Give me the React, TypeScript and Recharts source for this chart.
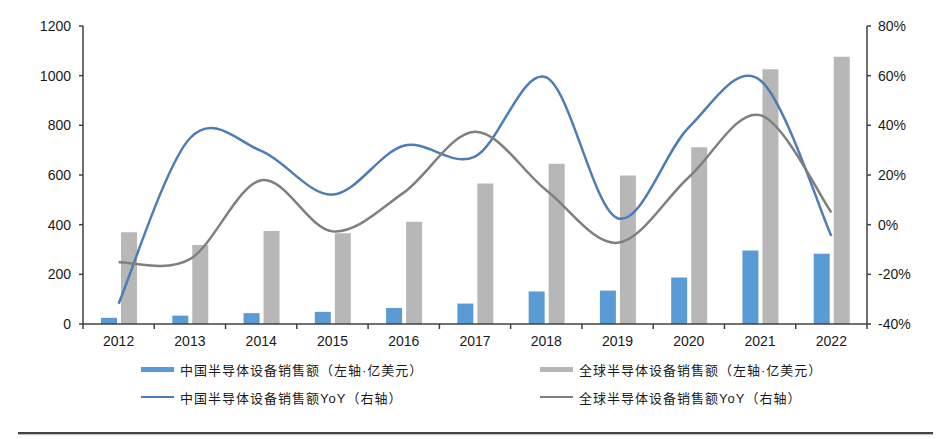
import React from 'react';
import { ComposedChart, Bar, Line, XAxis, YAxis, Legend } from 'recharts';

const years = ['2012', '2013', '2014', '2015', '2016', '2017', '2018', '2019', '2020', '2021', '2022'];
const chinaSales = [25, 33.7, 43.7, 49, 64.6, 82.3, 131.1, 134.5, 187.2, 296.2, 282.7];
const globalSales = [369.3, 318, 375, 365, 412, 566, 645, 598, 712, 1026, 1076];
const chinaYoY = [-0.318, 0.348, 0.297, 0.121, 0.318, 0.274, 0.593, 0.026, 0.392, 0.582, -0.046];
const globalYoY = [-0.151, -0.139, 0.179, -0.027, 0.129, 0.374, 0.139, -0.073, 0.191, 0.441, 0.049];
const leftTicks = [0, 200, 400, 600, 800, 1000, 1200];
const rightTicks = [-0.4, -0.2, 0, 0.2, 0.4, 0.6, 0.8];

const names = {
  china: '中国半导体设备销售额（左轴·亿美元）',
  global: '全球半导体设备销售额（左轴·亿美元）',
  chinaYoY: '中国半导体设备销售额YoY（右轴）',
  globalYoY: '全球半导体设备销售额YoY（右轴）',
};

const COLORS = {
  china: '#5B9BD5',
  global: '#B7B7B7',
  chinaYoY: '#4C7DB7',
  globalYoY: '#7F7F7F',
  axis: '#404040',
};

const data = years.map((y, i) => ({
  year: y,
  china: chinaSales[i],
  global: globalSales[i],
  chinaYoY: chinaYoY[i],
  globalYoY: globalYoY[i],
}));

const W = 950;
const H = 439;
const PLOT_LEFT = 83;
const PLOT_RIGHT = 867;
const PLOT_TOP = 26;
const PLOT_BOTTOM = 324;
const AXIS_W = 60;
const XAXIS_H = 30;
const BAND = (PLOT_RIGHT - PLOT_LEFT) / years.length;

// Excel-like smoothing (Catmull-Rom through points)
const excelCurve: any = (context: any) => {
  let pts: number[][] = [];
  return {
    areaStart() {},
    areaEnd() {},
    lineStart() {
      pts = [];
    },
    lineEnd() {
      const n = pts.length;
      if (n === 0) return;
      context.moveTo(pts[0][0], pts[0][1]);
      for (let i = 0; i < n - 1; i++) {
        const p0 = pts[i - 1] || pts[i];
        const p1 = pts[i];
        const p2 = pts[i + 1];
        const p3 = pts[i + 2] || p2;
        context.bezierCurveTo(
          p1[0] + (p2[0] - p0[0]) / 6,
          p1[1] + (p2[1] - p0[1]) / 6,
          p2[0] - (p3[0] - p1[0]) / 6,
          p2[1] - (p3[1] - p1[1]) / 6,
          p2[0],
          p2[1]
        );
      }
    },
    point(x: number, y: number) {
      pts.push([+x, +y]);
    },
  };
};

const XTick = (props: any) => {
  const { x, y, payload, index } = props;
  const last = index === years.length - 1;
  return (
    <g>
      <line x1={x - BAND / 2} x2={x - BAND / 2} y1={y} y2={y + 5} stroke={COLORS.axis} strokeWidth={1.5} />
      {last && <line x1={x + BAND / 2} x2={x + BAND / 2} y1={y} y2={y + 5} stroke={COLORS.axis} strokeWidth={1.5} />}
      <text x={x} y={y + 22} textAnchor="middle" fontSize={14} fill="#1a1a1a" fontFamily="'Liberation Sans', Arial, sans-serif">
        {payload.value}
      </text>
    </g>
  );
};

const legendItems = [
  { key: 'china', kind: 'bar', left: 141, top: 360 },
  { key: 'global', kind: 'bar', left: 540, top: 360 },
  { key: 'chinaYoY', kind: 'line', left: 141, top: 388 },
  { key: 'globalYoY', kind: 'line', left: 540, top: 388 },
];

const LegendContent = () => (
  <div style={{ position: 'relative', width: W, height: 60 }}>
    {legendItems.map((it) => (
      <div
        key={it.key}
        style={{
          position: 'absolute',
          left: it.left,
          top: it.top - 355,
          height: 18,
          display: 'flex',
          alignItems: 'center',
          whiteSpace: 'nowrap',
        }}
      >
        <div
          style={{
            width: 33,
            height: it.kind === 'bar' ? 5 : 2.5,
            background: (COLORS as any)[it.key],
            marginRight: 6,
          }}
        />
        <span
          style={{
            fontFamily: "'Liberation Sans', 'Noto Sans CJK SC', sans-serif",
            fontSize: 13,
            color: '#1a1a1a',
            letterSpacing: 1,
          }}
        >
          {(names as any)[it.key]}
        </span>
      </div>
    ))}
  </div>
);

export default function App() {
  return (
    <div style={{ position: 'absolute', left: 0, top: 0, width: W, height: H, background: '#fff' }}>
      <ComposedChart
        width={W}
        height={H}
        data={data}
        margin={{
          top: PLOT_TOP,
          left: PLOT_LEFT - AXIS_W,
          right: W - PLOT_RIGHT - AXIS_W,
          bottom: H - PLOT_BOTTOM - XAXIS_H,
        }}
        barSize={16}
        barGap={4}
      >
        <XAxis
          dataKey="year"
          height={XAXIS_H}
          tickLine={false}
          tickSize={0}
          tickMargin={0}
          tick={<XTick />}
          axisLine={{ stroke: COLORS.axis, strokeWidth: 1.5 }}
          interval={0}
        />
        <YAxis
          yAxisId="left"
          width={AXIS_W}
          domain={[0, 1200]}
          ticks={leftTicks}
          tickSize={4}
          tickMargin={8}
          axisLine={{ stroke: COLORS.axis, strokeWidth: 1.5 }}
          tickLine={{ stroke: COLORS.axis, strokeWidth: 1.5 }}
          tick={{ fontSize: 14, fill: '#1a1a1a', fontFamily: "'Liberation Sans', Arial, sans-serif" }}
          allowDataOverflow
        />
        <YAxis
          yAxisId="right"
          orientation="right"
          width={AXIS_W}
          domain={[-0.4, 0.8]}
          ticks={rightTicks}
          tickSize={4}
          tickMargin={7}
          tickFormatter={(v: number) => `${Math.round(v * 100)}%`}
          axisLine={{ stroke: COLORS.axis, strokeWidth: 1.5 }}
          tickLine={{ stroke: COLORS.axis, strokeWidth: 1.5 }}
          tick={{ fontSize: 14, fill: '#1a1a1a', fontFamily: "'Liberation Sans', Arial, sans-serif", textAnchor: 'start' }}
          allowDataOverflow
        />
        <Legend
          layout="horizontal"
          verticalAlign="middle"
          align="center"
          wrapperStyle={{ top: 355, left: 0, width: W }}
          content={<LegendContent />}
        />
        <Bar yAxisId="left" dataKey="china" name={names.china} fill={COLORS.china} isAnimationActive={false} />
        <Bar yAxisId="left" dataKey="global" name={names.global} fill={COLORS.global} isAnimationActive={false} />
        <Line
          yAxisId="right"
          dataKey="chinaYoY"
          name={names.chinaYoY}
          type={excelCurve}
          stroke={COLORS.chinaYoY}
          strokeWidth={2.5}
          dot={false}
          activeDot={false}
          isAnimationActive={false}
        />
        <Line
          yAxisId="right"
          dataKey="globalYoY"
          name={names.globalYoY}
          type={excelCurve}
          stroke={COLORS.globalYoY}
          strokeWidth={2.5}
          dot={false}
          activeDot={false}
          isAnimationActive={false}
        />
      </ComposedChart>
      <div
        style={{
          position: 'absolute',
          left: 18,
          top: 432,
          width: 915,
          height: 2,
          background: '#444',
          boxShadow: '0 1px 1px #bbb',
        }}
      />
    </div>
  );
}
